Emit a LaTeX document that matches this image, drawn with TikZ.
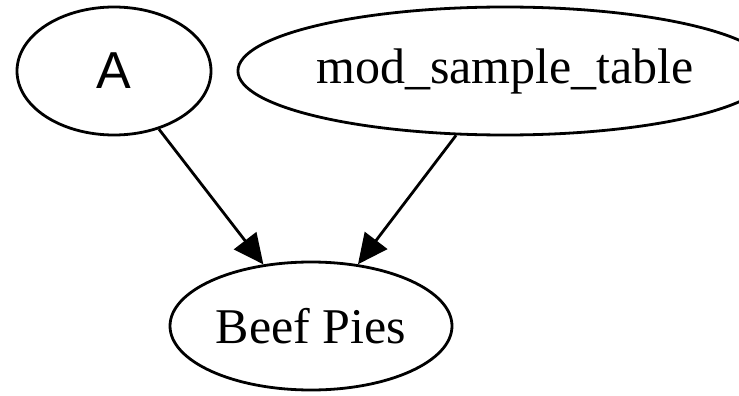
\documentclass[tikz,border=0pt]{standalone}
\usepackage{fontspec}
\setmainfont{Liberation Serif}
\newfontfamily\labelsans{Liberation Sans}
\usetikzlibrary{shapes.geometric,arrows.meta,positioning}

\begin{document}
\begin{tikzpicture}[x=1pt, y=-1pt, every node/.style={font=\fontsize{50}{60}\selectfont}]
    \useasboundingbox (0,0) rectangle (739,396);
    % Graph nodes
    \node[ellipse, draw, line width=2.8pt, inner sep=0pt, minimum width=194pt, minimum height=128pt, font=\labelsans\fontsize{52}{60}\selectfont] (a) at (114,71) {A};
    \node[ellipse, draw, line width=2.8pt, inner sep=0pt, minimum width=454pt, minimum height=128pt] (mst) at (505,71) {mod\_sample\_table};
    \node[ellipse, draw, line width=2.8pt, inner sep=0pt, minimum width=282pt, minimum height=128pt] (pies) at (311,326) {Beef Pies};

    % Edges
    \draw[-{Triangle[length=30pt,width=28pt]}, line width=2.8pt] (a) -- (pies);
    \draw[-{Triangle[length=30pt,width=28pt]}, line width=2.8pt] (mst) -- (pies);
\end{tikzpicture}
\end{document}
